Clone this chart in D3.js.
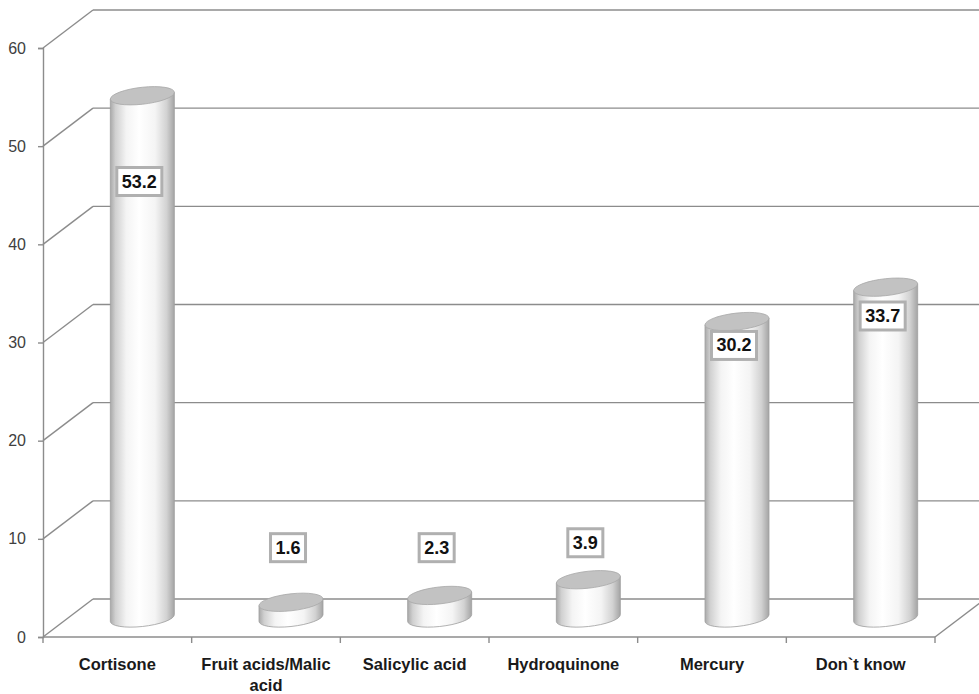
<!DOCTYPE html>
<html>
<head>
<meta charset="utf-8">
<script src="https://cdn.jsdelivr.net/npm/d3@7/dist/d3.min.js"></script>
<style>
  html, body { margin: 0; padding: 0; background: #ffffff; }
  svg { display: block; }
</style>
</head>
<body>
<svg id="chart" width="979" height="694"></svg>
<script>
// Data
const categories = ["Cortisone", "Fruit acids/Malic acid", "Salicylic acid", "Hydroquinone", "Mercury", "Don`t know"];
const categoryLines = [["Cortisone"], ["Fruit acids/Malic", "acid"], ["Salicylic acid"], ["Hydroquinone"], ["Mercury"], ["Don`t know"]];
const values = [53.2, 1.6, 2.3, 3.9, 30.2, 33.7];
const yTicks = [0, 10, 20, 30, 40, 50, 60];

// Layout: level (in axis units) at which each value label box sits
const labelLevels = [46.4, 9.1, 9.1, 9.6, 29.7, 32.7];

const plotLeft = 43, plotRight = 935, plotBottom = 637, plotTop = 48;
const depthX = 50, depthY = -38;     // offset of the back wall
const gridColor = "#8c8c8c";

const svg = d3.select("#chart");

const y = d3.scaleLinear().domain([0, 60]).range([plotBottom, plotTop]);
const x = d3.scaleBand().domain(categories).range([plotLeft, plotRight]).padding(0);

// Cylinder gradient
const defs = svg.append("defs");
const grad = defs.append("linearGradient").attr("id", "cyl").attr("x1", "0%").attr("x2", "100%");
[[0, "#a9a9a9"], [0.08, "#d0d0d0"], [0.25, "#f4f4f4"], [0.45, "#ffffff"], [0.7, "#f4f4f4"], [0.88, "#d2d2d2"], [1, "#a4a4a4"]]
  .forEach(([o, c]) => grad.append("stop").attr("offset", o).attr("stop-color", c));

const walls = svg.append("g").attr("fill", "none").attr("stroke", gridColor).attr("stroke-width", 1.4);

// Gridlines on side and back walls
yTicks.forEach(t => {
  const yf = y(t);
  walls.append("line")
    .attr("x1", plotLeft).attr("y1", yf)
    .attr("x2", plotLeft + depthX).attr("y2", yf + depthY);
  walls.append("line")
    .attr("x1", plotLeft + depthX).attr("y1", yf + depthY)
    .attr("x2", plotRight + depthX).attr("y2", yf + depthY);
});

// Floor front edge and right floor edge
walls.append("line").attr("x1", plotLeft).attr("y1", y(0)).attr("x2", plotRight).attr("y2", y(0));
walls.append("line").attr("x1", plotRight).attr("y1", y(0)).attr("x2", plotRight + depthX).attr("y2", y(0) + depthY);

// Vertical value axis
const yAxis = d3.axisLeft(y).tickValues(yTicks).tickSize(5).tickPadding(12).tickFormat(d3.format("d"));
const ya = svg.append("g").attr("transform", `translate(${plotLeft},0)`).call(yAxis);
ya.select(".domain").attr("stroke", gridColor).attr("stroke-width", 1.4);
ya.selectAll(".tick line").attr("stroke", gridColor).attr("stroke-width", 1.4);
ya.selectAll(".tick text")
  .attr("font-family", "Liberation Sans, Arial, sans-serif")
  .attr("font-size", 16).attr("fill", "#404040");

// Category ticks
const boundaries = categories.map(c => x(c)).concat([x(categories[categories.length - 1]) + x.bandwidth()]);
svg.append("g").selectAll("line").data(boundaries).join("line")
  .attr("x1", d => d).attr("x2", d => d)
  .attr("y1", y(0)).attr("y2", y(0) + 6)
  .attr("stroke", gridColor).attr("stroke-width", 1.4);

// Category labels
const cat = svg.append("g")
  .attr("font-family", "Liberation Sans, Arial, sans-serif")
  .attr("font-size", 16.5).attr("font-weight", "bold").attr("fill", "#1a1a1a")
  .attr("text-anchor", "middle");
categories.forEach((c, i) => {
  const cx = x(c) + x.bandwidth() / 2;
  categoryLines[i].forEach((ln, j) => {
    cat.append("text").attr("x", cx).attr("y", 670 + j * 21).text(ln);
  });
});

// Cylinders
const rx = 32, ry = 8.5;
const cyl = svg.append("g");
categories.forEach((c, i) => {
  const cx = x(c) + x.bandwidth() / 2 + depthX / 2;
  const yBase = y(0) + depthY / 2;
  const yTop = y(values[i]) + depthY / 2;
  const g = cyl.append("g").attr("transform", `translate(${cx},0) skewY(-6)`);
  g.append("path")
    .attr("d", `M${-rx},${yTop} L${-rx},${yBase} A${rx},${ry} 0 0 0 ${rx},${yBase} L${rx},${yTop} Z`)
    .attr("fill", "url(#cyl)")
    .attr("stroke", "#a0a0a0").attr("stroke-width", 0.8);
  g.append("ellipse")
    .attr("cx", 0).attr("cy", yTop).attr("rx", rx).attr("ry", ry)
    .attr("fill", "#c2c2c2").attr("stroke", "#a8a8a8").attr("stroke-width", 0.8);
});

// Value labels
const lab = svg.append("g");
categories.forEach((c, i) => {
  const cx = x(c) + x.bandwidth() / 2 + depthX / 2 - 3;
  const cy = y(labelLevels[i]);
  const txt = lab.append("text")
    .attr("x", cx).attr("y", cy)
    .attr("text-anchor", "middle").attr("dominant-baseline", "central")
    .attr("font-family", "Liberation Sans, Arial, sans-serif")
    .attr("font-size", 18).attr("font-weight", "bold").attr("fill", "#111")
    .text(d3.format(".1f")(values[i]));
  const bb = txt.node().getBBox();
  const padX = 5, h = 28;
  lab.insert("rect", () => txt.node())
    .attr("x", bb.x - padX).attr("y", cy - h / 2)
    .attr("width", bb.width + 2 * padX).attr("height", h)
    .attr("fill", "#ffffff").attr("stroke", "#b0b0b0").attr("stroke-width", 3);
});
</script>
</body>
</html>
